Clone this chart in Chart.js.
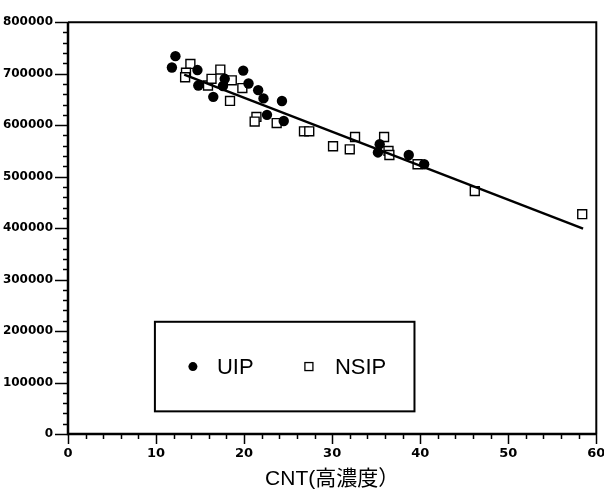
<!DOCTYPE html>
<html>
<head>
<meta charset="utf-8">
<script src="https://cdn.jsdelivr.net/npm/chart.js@4/dist/chart.umd.min.js"></script>
<style>
body { margin: 0; background: #fff; }
#wrap { width: 604px; height: 495px; }
</style>
</head>
<body>
<div id="wrap"><canvas id="chartArea" width="604" height="495"></canvas></div>
<script>
// UIP (filled circles)
var uipX = [11.8, 12.2, 14.7, 14.8, 16.5, 17.6, 17.8, 19.9, 20.5, 21.6, 22.2, 24.3, 22.6, 24.5, 35.4, 35.2, 38.7, 40.45];
var uipY = [712000, 734000, 707000, 677000, 655000, 676000, 690000, 706000, 681000, 668000, 652000, 647000, 620000, 608000, 563000, 547000, 542000, 524000];

// NSIP (open squares)
var nsipX = [13.9, 13.4, 13.3, 15.9, 16.3, 17.3, 18.6, 18.4, 19.8, 21.4, 21.2, 23.7, 26.8, 27.4, 30.1, 32.0, 32.6, 35.9, 36.4, 36.5, 39.7, 46.2, 58.4];
var nsipY = [719000, 702000, 693000, 677000, 690000, 708000, 687000, 647000, 672000, 616000, 607000, 604000, 588000, 588000, 559000, 553000, 577000, 577000, 550000, 542000, 524000, 472000, 427000];

// regression line ends
var fitX = [13.2, 58.5];
var fitY = [698000, 399000];

var xTicks = [0, 10, 20, 30, 40, 50, 60];
var yTicks = [0, 100000, 200000, 300000, 400000, 500000, 600000, 700000, 800000];

function pts(xs, ys) {
    var out = [];
    for (var i = 0; i < xs.length; i++) out.push({ x: xs[i], y: ys[i] });
    return out;
}

var tickFont = { family: 'DejaVu Sans', size: 12, weight: 'bold' };

// frame, major and minor ticks
var framePlugin = {
    id: 'frame',
    beforeDatasetsDraw: function(chart) {
        var c = chart.ctx, a = chart.chartArea;
        var sx = chart.scales.x, sy = chart.scales.y;
        c.save();
        c.strokeStyle = '#000';
        c.lineCap = 'butt';
        // y ticks
        c.lineWidth = 1.5;
        for (var v = 0; v <= 800000; v += 20000) {
            var py = Math.round(sy.getPixelForValue(v)) + 0.5;
            var major = v % 100000 === 0;
            c.beginPath();
            c.moveTo(a.left - (major ? 13 : 5), py);
            c.lineTo(a.left, py);
            c.stroke();
        }
        // x ticks
        for (var u = 0; u <= 60; u += 2) {
            var px = Math.round(sx.getPixelForValue(u)) + 0.5;
            var maj = u % 10 === 0;
            c.beginPath();
            c.moveTo(px, a.bottom);
            c.lineTo(px, a.bottom + (maj ? 10 : 5));
            c.stroke();
        }
        // box
        c.lineWidth = 2;
        c.beginPath();
        c.moveTo(a.left, a.top);
        c.lineTo(a.right, a.top);
        c.lineTo(a.right, a.bottom);
        c.stroke();
        c.lineWidth = 2.5;
        c.beginPath();
        c.moveTo(a.left, a.top);
        c.lineTo(a.left, a.bottom);
        c.lineTo(a.right, a.bottom);
        c.stroke();
        c.restore();
    }
};

// legend box inside the plot
var legendPlugin = {
    id: 'boxLegend',
    afterDatasetsDraw: function(chart) {
        var c = chart.ctx;
        var sx = chart.scales.x, sy = chart.scales.y;
        var l = sx.getPixelForValue(9.87), r = sx.getPixelForValue(39.35);
        var t = sy.getPixelForValue(218000), b = sy.getPixelForValue(44000);
        var cy = (t + b) / 2;
        c.save();
        c.fillStyle = '#fff';
        c.fillRect(l, t, r - l, b - t);
        c.strokeStyle = '#000';
        c.lineWidth = 2;
        c.strokeRect(l, t, r - l, b - t);
        c.fillStyle = '#000';
        c.beginPath();
        c.arc(l + 38, cy, 4.5, 0, Math.PI * 2);
        c.fill();
        c.lineWidth = 1.3;
        c.strokeRect(l + 150, cy - 4, 8, 8);
        c.font = '22px "Liberation Sans", Arial, sans-serif';
        c.textBaseline = 'middle';
        c.fillText('UIP', l + 62, cy + 1);
        c.fillText('NSIP', l + 180, cy + 1);
        c.restore();
    }
};

var ctx = document.getElementById('chartArea').getContext('2d');

var myChart = new Chart(ctx, {
    type: 'scatter',
    data: {
        datasets: [{
            label: 'fit',
            type: 'line',
            data: pts(fitX, fitY),
            borderColor: '#000',
            borderWidth: 2.4,
            pointRadius: 0,
            fill: false,
            order: 0
        }, {
            label: 'UIP',
            data: pts(uipX, uipY),
            pointStyle: 'circle',
            pointRadius: 5.2,
            backgroundColor: '#000',
            borderWidth: 0,
            order: 1
        }, {
            label: 'NSIP',
            data: pts(nsipX, nsipY),
            pointStyle: 'rect',
            pointRadius: 6.3,
            backgroundColor: '#fff',
            borderColor: '#000',
            borderWidth: 1.4,
            order: 2
        }]
    },
    options: {
        responsive: false,
        animation: false,
        layout: { padding: { top: 16, right: 7, left: 0, bottom: 0 } },
        plugins: {
            legend: { display: false },
            tooltip: { enabled: false }
        },
        scales: {
            x: {
                type: 'linear',
                min: 0,
                max: 60,
                afterBuildTicks: function(s) { s.ticks = xTicks.map(function(v) { return { value: v }; }); },
                afterFit: function(s) { s.height = 61; s.paddingLeft = 0; s.paddingRight = 0; },
                ticks: {
                    color: '#000', font: { family: 'DejaVu Sans', size: 13, weight: 'bold' }, padding: 12, maxRotation: 0,
                    callback: function(v) { return String(v); }
                },
                grid: { display: false, drawTicks: false },
                border: { display: false },
                title: {
                    display: true,
                    text: 'CNT(高濃度）',
                    color: '#000',
                    font: { family: '"Liberation Sans", "Noto Sans CJK JP", sans-serif', size: 21 },
                    padding: { top: 0, bottom: 3 }
                }
            },
            y: {
                type: 'linear',
                min: 0,
                max: 800000,
                afterBuildTicks: function(s) { s.ticks = yTicks.map(function(v) { return { value: v }; }); },
                afterFit: function(s) { s.width = 68; },
                ticks: {
                    color: '#000', font: tickFont, padding: 15,
                    callback: function(v) { return String(v); }
                },
                grid: { display: false, drawTicks: false },
                border: { display: false }
            }
        }
    },
    plugins: [framePlugin, legendPlugin]
});
</script>
</body>
</html>
